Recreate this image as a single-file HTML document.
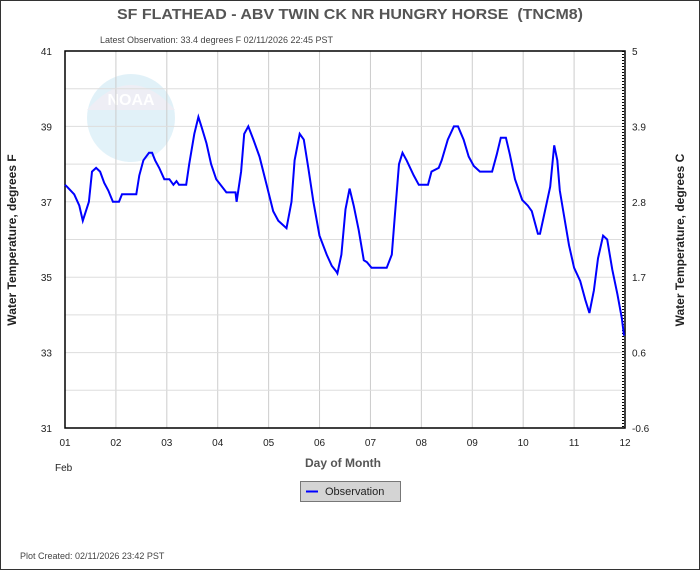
<!DOCTYPE html>
<html><head><meta charset="utf-8"><style>
body{margin:0;background:#fff}
svg{display:block;font-family:"Liberation Sans",Arial,sans-serif}
</style></head><body>
<svg id="chart" width="700" height="570" viewBox="0 0 700 570">
<rect x="0.5" y="0.5" width="699" height="569" fill="#fff" stroke="#333"/>
<text x="350" y="19" text-anchor="middle" font-size="15" font-weight="bold" fill="#555" textLength="466" lengthAdjust="spacingAndGlyphs">SF FLATHEAD - ABV TWIN CK NR HUNGRY HORSE &#160;(TNCM8)</text>
<text x="100" y="43" font-size="9" fill="#444">Latest Observation: 33.4 degrees F 02/11/2026 22:45 PST</text>
<g opacity="0.3"><circle cx="131" cy="118" r="44" fill="#9fd3ea"/><path d="M87 110 Q131 60 175 110 Z" fill="#c8c8e0"/><text x="131" y="105" text-anchor="middle" font-size="16" font-weight="bold" fill="#fff">NOAA</text></g>
<g id="grid"></g>
<rect x="65" y="51" width="560" height="377" fill="none" stroke="#000" stroke-width="1.5"/>
<g id="axes"></g>
<polyline id="series" fill="none" stroke="#0000ff" stroke-width="2"/>
<text x="16" y="240" transform="rotate(-90 16 240)" text-anchor="middle" font-size="12" font-weight="bold" fill="#222">Water Temperature, degrees F</text>
<text x="684" y="240" transform="rotate(-90 684 240)" text-anchor="middle" font-size="12" font-weight="bold" fill="#222">Water Temperature, degrees C</text>
<text x="343" y="467" text-anchor="middle" font-size="12" font-weight="bold" fill="#555">Day of Month</text>
<text x="55" y="471" font-size="10" fill="#222">Feb</text>
<g><rect x="300.5" y="481.5" width="100" height="20" fill="#d4d4d4" stroke="#777"/><line x1="306" y1="491.5" x2="318" y2="491.5" stroke="#0000ff" stroke-width="2"/><text x="325" y="495" font-size="11" fill="#222">Observation</text></g>
<text x="20" y="559" font-size="9" fill="#444">Plot Created: 02/11/2026 23:42 PST</text>
</svg>
<script>
const dayLabels=["01","02","03","04","05","06","07","08","09","10","11","12"];
const yTicksF=[31,33,35,37,39,41];
const yTicksC=["-0.6","0.6","1.7","2.8","3.9","5"];
const times=[0,0.04,0.18,0.28,0.35,0.47,0.53,0.61,0.69,0.77,0.85,0.94,1.06,1.12,1.40,1.46,1.54,1.65,1.71,1.77,1.85,1.95,2.05,2.13,2.19,2.24,2.38,2.44,2.54,2.62,2.68,2.78,2.87,2.97,3.17,3.35,3.37,3.46,3.52,3.60,3.70,3.82,3.96,4.09,4.19,4.35,4.45,4.51,4.61,4.69,4.78,4.88,5.00,5.14,5.24,5.33,5.35,5.43,5.51,5.59,5.67,5.77,5.87,5.93,6.02,6.32,6.42,6.48,6.56,6.63,6.71,6.85,6.95,7.13,7.20,7.34,7.40,7.52,7.64,7.72,7.83,7.93,8.03,8.15,8.39,8.48,8.56,8.66,8.74,8.84,8.98,9.09,9.17,9.29,9.33,9.41,9.53,9.61,9.67,9.72,9.80,9.90,10.0,10.12,10.22,10.30,10.39,10.47,10.57,10.65,10.75,10.85,10.94,10.98];
const temps=[37.45,37.4,37.2,36.9,36.5,37.0,37.8,37.9,37.8,37.5,37.3,37.0,37.0,37.2,37.2,37.7,38.1,38.3,38.3,38.1,37.9,37.6,37.6,37.45,37.55,37.45,37.45,38.0,38.8,39.25,39.0,38.55,38.0,37.6,37.25,37.25,37.0,37.8,38.8,39.0,38.65,38.2,37.45,36.75,36.5,36.3,37.0,38.1,38.8,38.65,37.9,37.0,36.1,35.6,35.3,35.15,35.1,35.6,36.8,37.35,36.9,36.25,35.45,35.4,35.25,35.25,35.6,36.65,38.0,38.3,38.1,37.7,37.45,37.45,37.8,37.9,38.1,38.65,39.0,39.0,38.65,38.2,37.95,37.8,37.8,38.25,38.7,38.7,38.25,37.6,37.05,36.9,36.75,36.15,36.15,36.65,37.4,38.5,38.1,37.3,36.65,35.85,35.25,34.9,34.4,34.05,34.65,35.5,36.1,36.0,35.2,34.55,33.9,33.45];
const X0=65,X1=625,Y0=51,Y1=428;
const xs=d=>X0+d*(X1-X0)/11;
const ys=t=>Y1-(t-31)*(Y1-Y0)/10;
const NS="http://www.w3.org/2000/svg";
const grid=document.getElementById('grid'),axes=document.getElementById('axes');
function mk(tag,attrs,parent){const e=document.createElementNS(NS,tag);for(const k in attrs)e.setAttribute(k,attrs[k]);parent.appendChild(e);return e;}
for(let i=1;i<11;i++){
  const g=mk('line',{x1:xs(i),x2:xs(i),y1:Y0,y2:Y1,stroke:'#ccc'},grid);
  
  
}
for(let v=32;v<41;v++){
  const g=mk('line',{x1:X0,x2:X1,y1:ys(v),y2:ys(v),stroke:'#ddd'},grid);
  
  
}
dayLabels.forEach((l,i)=>{
  const t=mk('text',{x:xs(i),y:446,'text-anchor':'middle','font-size':10,fill:'#222'},axes);t.textContent=l;
  
  
});
yTicksF.forEach((v,i)=>{
  const t=mk('text',{x:52,y:ys(v)+4,'text-anchor':'end','font-size':10,fill:'#222'},axes);t.textContent=v;
  
  
  const c=mk('text',{x:632,y:ys(v)+4,'font-size':10,fill:'#222'},axes);c.textContent=yTicksC[i];
  
  
});
mk('line',{x1:X1-2,x2:X1-2,y1:Y0,y2:Y1,stroke:'#000','stroke-dasharray':'1,2','stroke-width':2},axes);
document.getElementById('series').setAttribute('points',times.map((d,i)=>xs(d).toFixed(1)+','+ys(temps[i]).toFixed(1)).join(' '));
</script>
</body></html>
